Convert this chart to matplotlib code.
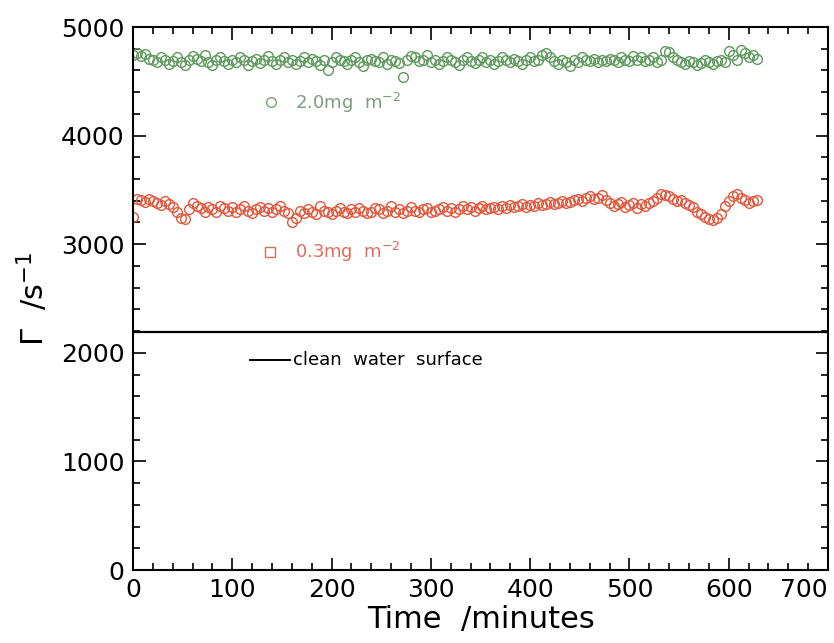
import numpy as np
import matplotlib
matplotlib.use("Agg")
import matplotlib.pyplot as plt
from matplotlib.ticker import MultipleLocator

plt.rcParams['font.family'] = ['DejaVu Sans']

# sampling interval of the measurements (minutes)
time_step = 4

green_2mg = [
    4740, 4760, 4730, 4750, 4710, 4700, 4680, 4720, 4700, 4660,
    4690, 4720, 4680, 4650, 4700, 4730, 4710, 4690, 4740, 4680,
    4650, 4700, 4720, 4690, 4660, 4700, 4680, 4720, 4700, 4650,
    4690, 4710, 4670, 4700, 4730, 4690, 4660, 4700, 4720, 4680,
    4700, 4660, 4690, 4720, 4680, 4710, 4690, 4650, 4700, 4600,
    4680, 4720, 4700, 4690, 4660, 4700, 4720, 4680, 4640, 4700,
    4710, 4690, 4680, 4720, 4660, 4700, 4690, 4670, 4540, 4700,
    4730, 4720, 4690, 4700, 4740, 4680, 4700, 4660, 4690, 4720,
    4700, 4680, 4650, 4700, 4720, 4690, 4670, 4700, 4720, 4680,
    4700, 4660, 4690, 4720, 4700, 4680, 4710, 4690, 4660, 4700,
    4720, 4690, 4700, 4740, 4760, 4720, 4690, 4660, 4700, 4680,
    4640, 4700, 4680, 4720, 4700, 4690, 4710, 4680, 4700, 4690,
    4710, 4700, 4680, 4720, 4700, 4690, 4730, 4700, 4720, 4690,
    4700, 4720, 4680, 4700, 4780, 4770, 4720, 4700, 4680, 4660,
    4690, 4680, 4650, 4670, 4700, 4680, 4660, 4690, 4700, 4680,
    4780, 4740, 4700, 4790, 4760, 4720, 4740, 4710,
]

red_03mg = [
    3250, 3420, 3410, 3390, 3420, 3400, 3380, 3360, 3400, 3370,
    3340, 3300, 3240, 3230, 3320, 3380, 3350, 3330, 3300, 3340,
    3320, 3300, 3350, 3330, 3310, 3340, 3300, 3320, 3350, 3310,
    3290, 3320, 3340, 3310, 3330, 3300, 3320, 3350, 3310, 3290,
    3200, 3240, 3310, 3290, 3320, 3300, 3280, 3350, 3310, 3300,
    3280, 3310, 3330, 3300, 3290, 3320, 3300, 3330, 3310, 3290,
    3300, 3330, 3320, 3290, 3310, 3350, 3300, 3320, 3290, 3310,
    3340, 3310, 3300, 3320, 3330, 3300, 3310, 3320, 3340, 3310,
    3330, 3300, 3320, 3350, 3320, 3340, 3310, 3330, 3350, 3320,
    3330, 3340, 3320, 3350, 3330, 3360, 3340, 3350, 3370, 3340,
    3360, 3350, 3380, 3360, 3370, 3390, 3370, 3380, 3400, 3380,
    3390, 3410, 3420, 3400, 3430, 3440, 3420, 3430, 3450, 3410,
    3380, 3350, 3370, 3390, 3340, 3360, 3380, 3330, 3370, 3350,
    3380, 3400, 3430, 3460, 3450, 3440, 3420, 3400, 3410, 3380,
    3360, 3340, 3300, 3280, 3250, 3230, 3220, 3240, 3280, 3350,
    3400, 3440, 3460, 3430, 3410, 3380, 3400, 3410,
]

clean_water = 2190

x_ticks = [0, 100, 200, 300, 400, 500, 600, 700]
y_ticks = [0, 1000, 2000, 3000, 4000, 5000]

label_green = r"2.0mg  m$^{-2}$"
label_red = r"0.3mg  m$^{-2}$"
label_clean = "clean  water  surface"

t_green = np.arange(len(green_2mg)) * time_step
t_red = np.arange(len(red_03mg)) * time_step

green_c = '#5e9a5c'
red_c = '#e2573b'
green_txt = '#7a9e7a'
red_txt = '#e06e5a'

fig = plt.figure(figsize=(8.34, 6.43), dpi=100)
ax = fig.add_axes([0.1595, 0.1135, 0.8333, 0.8445])

ax.plot(t_green, green_2mg, 'o', mfc='none', mec=green_c, ms=7, mew=1.0)
ax.plot(t_red, red_03mg, 'o', mfc='none', mec=red_c, ms=7, mew=1.0)
ax.axhline(clean_water, color='black', lw=1.6)

# in-plot labels
ax.plot([139], [4305], 'o', mfc='none', mec=green_txt, ms=7, mew=1.0)
ax.text(163, 4305, label_green, color=green_txt, fontsize=13, va='center', ha='left')
ax.plot([138], [2925], 's', mfc='none', mec=red_txt, ms=7, mew=1.0)
ax.text(163, 2925, label_red, color=red_txt, fontsize=13, va='center', ha='left')
ax.plot([118, 158], [1935, 1935], color='black', lw=1.4)
ax.text(161, 1935, label_clean, color='black', fontsize=13, va='center', ha='left')

ax.set_xticks(x_ticks)
ax.set_yticks(y_ticks)
ax.set_xlim(0, 700)
ax.set_ylim(0, 5000)
ax.xaxis.set_minor_locator(MultipleLocator(20))
ax.yaxis.set_minor_locator(MultipleLocator(200))
ax.tick_params(which='both', direction='in', top=True, right=True, width=1.2)
ax.tick_params(which='major', length=9, labelsize=18, pad=6)
ax.tick_params(which='minor', length=5)
for s in ax.spines.values():
    s.set_linewidth(1.5)

ax.xaxis.get_major_ticks()[-1].label1.set_horizontalalignment('right')

ax.set_xlabel("Time  /minutes", fontsize=22, labelpad=2)
ax.set_ylabel(r"$\Gamma$  /s$^{-1}$", fontsize=22, labelpad=8)

fig.savefig("out.png", dpi=100)
